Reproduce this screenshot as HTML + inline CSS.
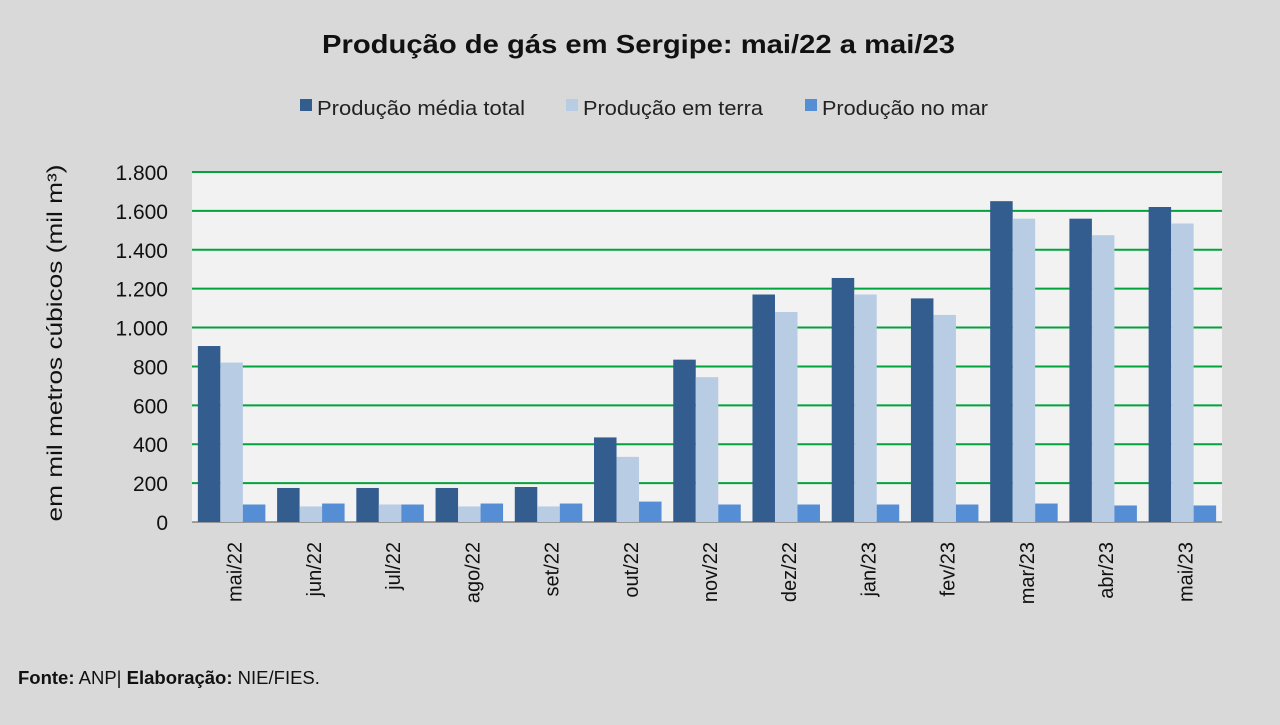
<!DOCTYPE html>
<html><head><meta charset="utf-8"><style>
body{margin:0;background:#d9d9d9;font-family:"Liberation Sans",sans-serif;}
</style></head><body>
<svg id="chart" width="1280" height="720" xmlns="http://www.w3.org/2000/svg">
<rect width="1280" height="720" fill="#d9d9d9"/>
<text x="322" y="53" textLength="633" lengthAdjust="spacingAndGlyphs" font-size="26" font-weight="bold" fill="#111">Produção de gás em Sergipe: mai/22 a mai/23</text>
<g font-size="20" fill="#222">
<g><rect x="300" y="99" width="12" height="12" fill="#335c8f"/><text x="317" y="115" textLength="208" lengthAdjust="spacingAndGlyphs">Produção média total</text></g>
<g><rect x="566" y="99" width="12" height="12" fill="#b8cce4"/><text x="583" y="115" textLength="180" lengthAdjust="spacingAndGlyphs">Produção em terra</text></g>
<g><rect x="805" y="99" width="12" height="12" fill="#558ed5"/><text x="822" y="115" textLength="166" lengthAdjust="spacingAndGlyphs">Produção no mar</text></g>
</g>
<rect x="192" y="172" width="1030" height="350" fill="#f2f2f2"/>
<g id="grid"></g><g id="bars"></g><g id="xlabels"></g><g id="ylabels"></g>
<text transform="translate(62,343) rotate(-90)" text-anchor="middle" textLength="357" lengthAdjust="spacingAndGlyphs" font-size="21" fill="#111">em mil metros cúbicos (mil m³)</text>
<text x="18" y="684" font-size="18.5" fill="#111"><tspan font-weight="bold">Fonte:</tspan> ANP| <tspan font-weight="bold">Elaboração:</tspan> NIE/FIES.</text>
</svg>
<script>
const categories=["mai/22","jun/22","jul/22","ago/22","set/22","out/22","nov/22","dez/22","jan/23","fev/23","mar/23","abr/23","mai/23"];
const totalValues=[905,175,175,175,180,435,835,1170,1255,1150,1650,1560,1620];
const terraValues=[820,80,90,80,80,335,745,1080,1170,1065,1560,1475,1535];
const marValues=[90,95,90,95,95,105,90,90,90,90,95,85,85];
const yTicks=[0,200,400,600,800,1000,1200,1400,1600,1800];
const yTickLabels=["0","200","400","600","800","1.000","1.200","1.400","1.600","1.800"];
const NS="http://www.w3.org/2000/svg";
const x0=192,plotW=1030,yBase=522,plotH=350,yMax=1800;
const y=v=>yBase-v/yMax*plotH;
const bw=plotW/categories.length;
const xg=i=>x0+i*bw;
function mk(tag,attrs,parent){const e=document.createElementNS(NS,tag);for(const k in attrs)e.setAttribute(k,attrs[k]);document.getElementById(parent).appendChild(e);return e;}
yTicks.forEach((t,i)=>{
 if(t>0){const l=mk("line",{x1:x0,x2:x0+plotW,y1:y(t),y2:y(t),stroke:"#00a33c","stroke-width":2},"grid");
 
 }
 const tx=mk("text",{x:168,y:y(t)+8,"text-anchor":"end","font-size":21,fill:"#111"},"ylabels");
 tx.textContent=yTickLabels[i];
 
 
});
const ax=mk("line",{x1:x0,x2:x0+plotW,y1:yBase,y2:yBase,stroke:"#555","stroke-width":1},"grid");


const series=[[totalValues,"#335c8f","bar-total"],[terraValues,"#b8cce4","bar-terra"],[marValues,"#558ed5","bar-mar"]];
const barW=22.5,pad=(bw-3*barW)/2;
categories.forEach((c,i)=>{
 series.forEach((s,j)=>{
  const v=s[0][i];
  const r=mk("rect",{x:xg(i)+pad+j*barW,y:y(v),width:barW,height:yBase-y(v),fill:s[1]},"bars");
  
  
 });
 const cx=xg(i)+bw/2+10;
 const t=mk("text",{x:cx-10,y:532,"text-anchor":"end","font-size":20,fill:"#111",transform:`rotate(-90 ${cx} 532)`},"xlabels");
 t.textContent=c;
 
 
});
</script>
</body></html>
